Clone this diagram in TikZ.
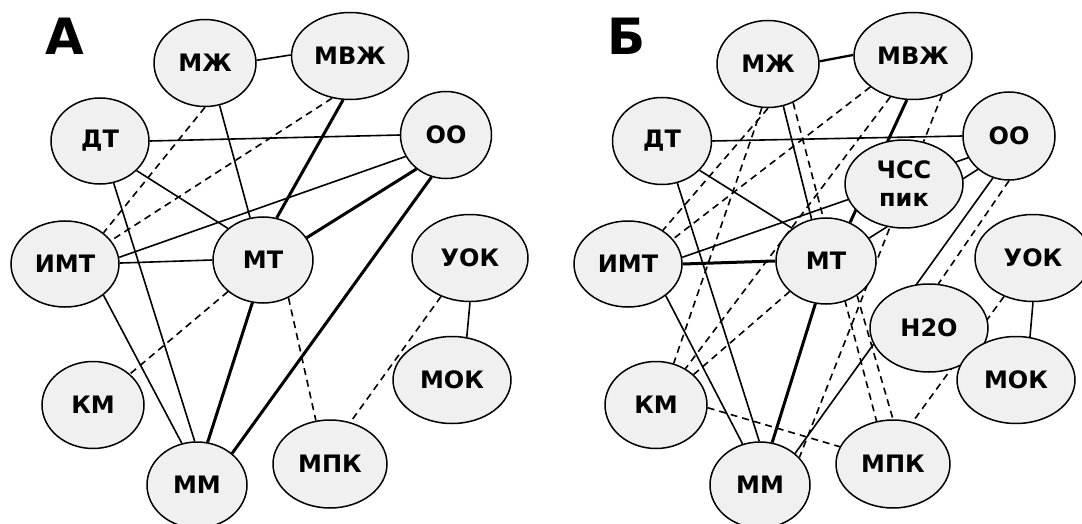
\documentclass[tikz,border=0pt]{standalone}
\usepackage{fontspec}
\setmainfont{DejaVu Sans}
\usetikzlibrary{shapes.geometric,backgrounds}
\definecolor{nodefill}{RGB}{240,240,240}
\begin{document}
\begin{tikzpicture}[x=1pt,y=-1pt,
  nd/.style={ellipse,draw,line width=1.5pt,fill=nodefill,inner sep=0pt,
    font=\fontsize{24}{28}\selectfont\bfseries,align=center},
  sz/.style 2 args={minimum width=#1pt,minimum height=#2pt},
  ln/.style={line width=1.6pt},
  lnm/.style={line width=2.3pt},
  lnk/.style={line width=3pt},
  lnd/.style={line width=1.6pt,dash pattern=on 7pt off 5pt},
  bigl/.style={font=\fontsize{50}{50}\selectfont\bfseries,inner sep=0pt}]
\useasboundingbox (0,0) rectangle (1082,524);
% panel labels
\node[bigl] (labA) at (65,36) {А};
\node[bigl] (labB) at (627,36) {Б};
% ---------- panel A nodes ----------
\node[nd,sz={102}{87}] (mzA) at (205,63) {МЖ};
\node[nd,sz={117}{87}] (mvA) at (350,56) {МВЖ};
\node[nd,sz={98}{86}]  (dtA) at (100,141) {ДТ};
\node[nd,sz={91}{87}]  (ooA) at (446,135) {ОО};
\node[nd,sz={108}{86}] (imA) at (65,264) {ИМТ};
\node[nd,sz={100}{86}] (mtA) at (263,260) {МТ};
\node[nd,sz={116}{87}] (ukA) at (470,258) {УОК};
\node[nd,sz={118}{87}] (mkA) at (452,380) {МОК};
\node[nd,sz={102}{87}] (kmA) at (93,405) {КМ};
\node[nd,sz={100}{86}] (mmA) at (197,485) {ММ};
\node[nd,sz={114}{88}] (mpA) at (330,464) {МПК};
% ---------- panel B nodes ----------
\node[nd,sz={102}{87}] (mzB) at (768,64) {МЖ};
\node[nd,sz={118}{87}] (mvB) at (913,56) {МВЖ};
\node[nd,sz={99}{87}]  (dtB) at (662,141) {ДТ};
\node[nd,sz={92}{88}]  (ooB) at (1009,136) {ОО};
\node[nd,sz={118}{88}] (csB) at (904,184) {ЧСС\\пик};
\node[nd,sz={108}{86}] (imB) at (628,264) {ИМТ};
\node[nd,sz={100}{86}] (mtB) at (826,261) {МТ};
\node[nd,sz={116}{87}] (ukB) at (1033,258) {УОК};
\node[nd,sz={118}{88}] (hoB) at (929,328) {Н2О};
\node[nd,sz={118}{87}] (mkB) at (1016,380) {МОК};
\node[nd,sz={102}{87}] (kmB) at (656,405) {КМ};
\node[nd,sz={100}{86}] (mmB) at (760,485) {ММ};
\node[nd,sz={114}{88}] (mpB) at (893,464) {МПК};
\begin{pgfonlayer}{background}
% ---------- panel A edges ----------
\draw[ln] (mzA.3) -- (mvA.179);
\draw[ln] (dtA.0) -- (ooA.180);
\draw[ln] (dtA.-39) -- (mtA.138);
\draw[ln] (dtA.-72) -- (mmA.93);
\draw[ln] (mzA.-71) -- (mtA.107);
\draw[lnk] (mvA.-99) -- (mtA.72);
\draw[ln] (imA.7) -- (ooA.208);
\draw[ln] (imA.1) -- (mtA.180);
\draw[ln] (imA.-39) -- (mmA.110);
\draw[lnk] (mtA.27) -- (ooA.229);
\draw[lnk] (mtA.-104) -- (mmA.76);
\draw[lnk] (ooA.-109) -- (mmA.42);
\draw[ln] (ukA.-90) -- (mkA.71);
\draw[lnd] (mzA.-90) -- (imA.39);
\draw[lnd] (mvA.-113) -- (imA.27);
\draw[lnd] (mtA.222) -- (kmA.40);
\draw[lnd] (mtA.-56) -- (mpA.108);
\draw[lnd] (ukA.233) -- (mpA.64);
% ---------- panel B edges ----------
\draw[lnm] (mzB.3) -- (mvB.179);
\draw[ln] (dtB.0) -- (ooB.180);
\draw[ln] (dtB.-38) -- (mtB.136);
\draw[ln] (dtB.-70) -- (mmB.91);
\draw[ln] (mzB.-70) -- (mtB.109);
\draw[lnk] (mvB.-98) -- (mtB.58);
\draw[ln] (imB.7) -- (ooB.208);
\draw[lnk] (imB.0) -- (mtB.180);
\draw[ln] (imB.-40) -- (mmB.113);
\draw[ln] (mtB.28) -- (ooB.227);
\draw[lnk] (mtB.-104) -- (mmB.74);
\draw[ln] (ooB.-111) -- (mmB.42);
\draw[ln] (ukB.-90) -- (mkB.72);
\draw[lnd] (mzB.-90) -- (imB.44);
\draw[lnd] (mzB.-98) -- (kmB.67);
\draw[lnd] (mzB.-57) -- (mpB.111);
\draw[lnd] (mvB.216) -- (imB.29);
\draw[lnd] (mvB.241) -- (kmB.51);
\draw[lnd] (mvB.-53) -- (mmB.35);
\draw[lnd] (kmB.39) -- (mtB.220);
\draw[lnd] (kmB.-3) -- (mpB.162);
\draw[lnd] (mtB.-48) -- (mpB.90);
\draw[lnd] (ooB.-90) -- (hoB.78);
\draw[lnd] (ukB.233) -- (mpB.65);
\end{pgfonlayer}
\end{tikzpicture}
\end{document}
